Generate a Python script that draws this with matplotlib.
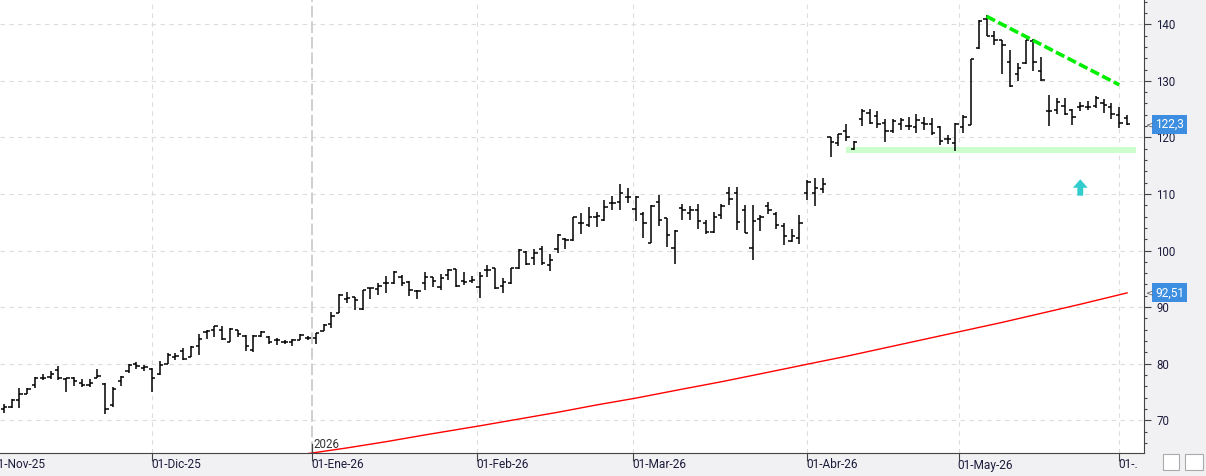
import matplotlib.pyplot as plt
from matplotlib.patches import Rectangle

# sesiones (indice de sesion desde el 03-Nov-25)
opens = [72.0, 72.3, 73.6, 74.7, 76.2, 77.4, 77.6, 78.9, 77.2, 77.4,
         76.6, 76.3, 77.5, 76.4, 72.6, 77.0, 78.7, 80.0, 79.3, 79.1,
         78.1, 79.9, 81.2, 82.2, 81.2, 83.1, 85.6, 85.9, 85.9, 83.9,
         85.9, 84.8, 82.5, 84.9, 84.7, 84.2, 83.9, 83.8, 84.2, 84.5,
         84.5, 85.8, 87.0, 88.9, 91.4, 91.8, 89.6, 93.3, 93.2, 94.2,
         94.3, 95.4, 94.5, 92.9, 94.2, 95.4, 93.6, 95.6, 96.7, 94.6,
         94.7, 93.6, 96.6, 96.9, 93.7, 94.2, 96.9, 99.8, 98.7, 100.3,
         97.5, 100.2, 102.1, 101.9, 104.9, 104.6, 105.9, 105.4, 108.4, 108.5,
         109.5, 107.3, 106.4, 101.4, 108.5, 105.8, 100.5, 107.6, 106.6, 107.2,
         104.8, 103.3, 106.2, 110.1, 110.1, 107.1, 100.5, 105.5, 107.8, 106.4,
         104.4, 101.7, 102.2, 110.1, 110.1, 110.8, 120.0, 119.0, 121.2, 118.0,
         123.3, 124.3, 123.8, 122.6, 121.1, 122.3, 122.1, 121.9, 122.5, 122.3,
         121.9, 119.8, 119.1, 121.8, 122.2, 135.8, 141.0, 138.0, 137.2, 133.3,
         131.2, 133.1, 137.0, 131.7, 124.6, 124.8, 125.6, 124.8, 125.4, 125.3,
         125.6, 126.0, 125.4, 124.0, 123.4]
highs = [72.9, 73.7, 75.7, 75.7, 77.7, 78.1, 78.7, 79.5, 77.5, 77.7,
         77.2, 77.2, 79.1, 76.5, 75.8, 77.9, 80.0, 80.3, 79.7, 79.3,
         80.5, 81.8, 81.8, 82.8, 83.1, 85.3, 85.9, 86.7, 86.6, 86.3,
         86.0, 85.1, 85.0, 85.7, 84.8, 84.5, 84.2, 84.4, 85.3, 84.8,
         85.5, 87.0, 89.1, 92.3, 92.6, 91.8, 93.1, 93.4, 94.3, 95.5,
         96.3, 95.6, 94.6, 93.1, 96.2, 95.4, 95.8, 96.7, 96.7, 96.2,
         95.5, 96.2, 97.5, 96.9, 95.2, 96.9, 100.2, 99.9, 100.3, 100.8,
         99.3, 103.0, 102.2, 105.9, 106.6, 107.7, 106.9, 109.0, 109.6, 111.8,
         111.1, 109.6, 106.8, 108.0, 109.9, 105.8, 103.6, 108.2, 107.8, 108.2,
         105.4, 106.8, 108.3, 111.3, 111.3, 108.0, 108.0, 106.2, 108.5, 106.8,
         104.8, 103.8, 106.2, 112.5, 112.9, 112.9, 120.0, 120.6, 122.4, 119.4,
         125.1, 125.0, 124.7, 123.3, 123.2, 123.5, 123.7, 124.1, 123.7, 123.5,
         122.1, 120.5, 122.6, 124.0, 133.9, 140.8, 141.6, 138.8, 137.3, 135.4,
         133.1, 137.3, 137.4, 134.3, 127.5, 126.9, 126.9, 125.0, 126.3, 126.4,
         127.4, 126.8, 126.0, 125.4, 124.0]
lows = [71.3, 72.1, 72.1, 74.6, 75.7, 77.1, 77.2, 77.1, 75.0, 76.1,
        75.8, 75.8, 77.4, 71.1, 72.4, 76.1, 78.4, 79.1, 78.7, 75.0,
        78.0, 79.9, 80.6, 80.6, 81.2, 81.6, 84.4, 84.7, 84.2, 83.8,
        84.7, 82.3, 82.1, 84.7, 83.5, 83.3, 83.5, 83.2, 84.1, 84.2,
        83.5, 85.7, 86.3, 88.9, 90.8, 89.4, 89.5, 91.4, 92.2, 92.5,
        94.0, 93.7, 91.9, 91.4, 93.0, 93.6, 93.1, 94.8, 93.6, 93.9,
        94.2, 91.6, 95.4, 93.2, 92.5, 94.0, 96.8, 97.5, 97.4, 97.5,
        96.4, 99.6, 100.3, 101.6, 103.0, 104.2, 104.2, 105.2, 107.1, 107.1,
        108.4, 105.2, 102.2, 101.4, 104.3, 100.7, 97.7, 105.4, 105.4, 103.8,
        103.0, 103.1, 105.5, 108.0, 103.6, 103.1, 98.4, 103.4, 106.4, 103.8,
        100.9, 101.5, 101.2, 108.9, 107.8, 110.1, 116.6, 118.4, 119.4, 117.8,
        122.1, 122.3, 121.7, 119.2, 120.7, 121.3, 121.4, 120.8, 121.3, 120.5,
        118.6, 118.9, 117.6, 120.7, 122.2, 135.7, 138.0, 136.4, 131.3, 129.0,
        130.0, 133.0, 131.8, 130.0, 122.0, 124.2, 124.0, 122.2, 124.7, 124.8,
        125.2, 124.4, 123.2, 121.6, 122.2]
closes = [72.3, 73.6, 74.7, 75.5, 77.5, 77.5, 78.2, 77.4, 77.4, 77.0,
          76.3, 76.6, 77.8, 72.0, 75.6, 77.6, 79.7, 79.5, 79.4, 77.5,
          79.7, 81.6, 81.4, 80.8, 83.0, 84.4, 85.7, 86.6, 84.3, 86.1,
          85.2, 83.1, 84.8, 85.6, 83.9, 84.2, 83.9, 84.1, 85.1, 84.5,
          85.4, 86.8, 88.4, 92.2, 91.6, 91.3, 93.0, 93.3, 93.7, 94.3,
          96.2, 94.2, 93.1, 92.8, 95.4, 94.6, 95.2, 96.6, 93.7, 94.4,
          94.8, 95.5, 96.6, 93.4, 94.4, 96.9, 100.1, 97.7, 99.6, 97.8,
          98.4, 102.8, 101.8, 105.9, 104.9, 105.9, 106.1, 107.7, 108.4, 110.1,
          109.5, 109.5, 104.9, 107.9, 105.4, 102.7, 103.4, 107.1, 107.2, 105.2,
          103.3, 106.0, 107.9, 109.1, 105.0, 103.1, 105.2, 106.0, 107.2, 104.6,
          102.5, 102.5, 104.8, 112.2, 111.1, 111.7, 119.2, 120.6, 120.0, 119.2,
          124.6, 122.5, 122.3, 121.1, 122.9, 123.1, 122.1, 123.1, 122.3, 120.8,
          119.3, 119.7, 122.4, 123.6, 133.9, 140.6, 138.0, 137.2, 136.3, 129.1,
          132.3, 137.2, 133.3, 130.2, 124.6, 126.2, 124.1, 123.6, 125.6, 125.4,
          126.9, 125.8, 124.2, 122.6, 122.3]
first_idx = 1

# media movil
ma_idx = [40, 45, 50, 55, 62, 67, 72, 77, 82, 88, 93, 98, 104, 109, 114,
          119, 124, 129, 134, 139, 145]
ma_val = [64.1, 65.1, 66.2, 67.4, 69.0, 70.2, 71.4, 72.7, 73.9, 75.5, 76.8,
          78.2, 79.9, 81.3, 82.8, 84.3, 85.8, 87.3, 88.9, 90.5, 92.51]

# meses
month_pos = [-0.5, 20, 40.55, 61.7, 81.7, 104, 123.4, 144]
month_labels = ['01-Nov-25', '01-Dic-25', '01-Ene-26', '01-Feb-26',
                '01-Mar-26', '01-Abr-26', '01-May-26', '01-.']
year_pos = 40.55

# dibujos
trend_x = [127, 144]
trend_y = [141.4, 129.3]
support_x = [108.96, 146.1]
support_lo, support_hi = 117.25, 118.3
arrow_x, arrow_y, arrow_len = 139.0, 109.7, 2.9

last_close = 122.3
ma_last = 92.51

fig = plt.figure(figsize=(12.06, 4.76), dpi=100, facecolor='#f1f1f4')
ax = fig.add_axes([0, 23 / 476, 1144 / 1206, 453 / 476])
ax.set_facecolor('white')

# rejilla
for v in range(70, 141, 10):
    ax.axhline(v, color='#dcdcdc', lw=0.8, ls=(0, (4, 4)), zorder=0)
for p in month_pos:
    if p == year_pos:
        ax.axvline(p, color='#cfcfcf', lw=1.4, ls=(0, (6, 2)), zorder=0)
    else:
        ax.axvline(p, color='#dcdcdc', lw=0.8, ls=(0, (4, 4)), zorder=0)

# soporte
ax.fill_between(support_x, support_lo, support_hi, color='#ccffcc', lw=0, zorder=1)

# barras OHLC
xs = list(range(first_idx, first_idx + len(closes)))
ax.vlines(xs, lows, highs, color='black', lw=1.1, zorder=3)
ax.hlines(opens, [x - 0.42 for x in xs], xs, color='black', lw=1.1, zorder=3)
ax.hlines(closes, xs, [x + 0.42 for x in xs], color='black', lw=1.1, zorder=3)

# media movil
ax.plot(ma_idx, ma_val, color='red', lw=1.0, zorder=2)

# linea de tendencia
ax.plot(trend_x, trend_y, color='#00ee00', lw=2.6, ls=(0, (2.6, 1.0)), zorder=4)

# flecha
ax.arrow(arrow_x, arrow_y, 0, arrow_len, width=0.75, head_width=1.9,
         head_length=1.5, length_includes_head=True, color='#33cccc',
         lw=0, zorder=4)

# ejes
for s in ['top', 'left']:
    ax.spines[s].set_visible(False)
ax.spines['right'].set_color('#444444')
ax.spines['bottom'].set_color('#444444')
ax.yaxis.tick_right()
ax.set_yticks(range(70, 141, 10))
ax.set_yticks(range(66, 145, 2), minor=True)
ax.tick_params(axis='y', which='major', length=5, width=0.8, color='#444444',
               pad=4, labelsize=8.3, labelcolor='#1c1c3c')
ax.tick_params(axis='y', which='minor', length=2.5, width=0.8, color='#444444')
ax.set_xticks(month_pos)
ax.tick_params(axis='x', which='major', length=6, width=0.8, color='#444444',
               labelbottom=False)
for t in ax.get_yticklabels():
    t.set_family('Roboto')

# limites despues de los ticks
ax.set_xlim(0.5, 147.17)
ax.set_ylim(64.2, 144.3)

for p, lab in zip(month_pos, month_labels):
    ax.annotate(lab, xy=(p, 0), xycoords=('data', 'axes fraction'),
                xytext=(-1, -12), textcoords='offset pixels', ha='left',
                va='center', fontsize=8.6, color='#1c1c3c', family='Roboto',
                annotation_clip=False)

ax.annotate('2026', xy=(year_pos, 0), xycoords=('data', 'axes fraction'),
            xytext=(1, 9), textcoords='offset pixels', ha='left', va='center',
            fontsize=8.3, color='#333333', family='Roboto')
ax.plot([year_pos, year_pos], [0, 0.02], transform=ax.get_xaxis_transform(),
        color='#444444', lw=0.9)

# etiquetas de precio
for val, txt in [(last_close, '122,3'), (ma_last, '92,51')]:
    ax.annotate(txt, xy=(1, val), xycoords=('axes fraction', 'data'),
                xytext=(11, 0), textcoords='offset pixels', ha='left',
                va='center', fontsize=8.6, color='white', family='Roboto',
                bbox=dict(boxstyle='square,pad=0.25', fc='#3d8ee0', ec='none'),
                annotation_clip=False)
    ax.annotate('<', xy=(1, val), xycoords=('axes fraction', 'data'),
                xytext=(2, 0), textcoords='offset pixels', ha='left',
                va='center', fontsize=6.5, color='#555555',
                annotation_clip=False)

# botones abajo a la derecha
fig.patches.append(Rectangle((1163 / 1206, 6 / 476), 16 / 1206, 16 / 476,
                             transform=fig.transFigure, fc='white', ec='#aaaaaa', lw=0.8))
fig.patches.append(Rectangle((1185 / 1206, 6 / 476), 18 / 1206, 16 / 476,
                             transform=fig.transFigure, fc='white', ec='#aaaaaa', lw=0.8))

fig.savefig('out.png', dpi=100, facecolor=fig.get_facecolor())
